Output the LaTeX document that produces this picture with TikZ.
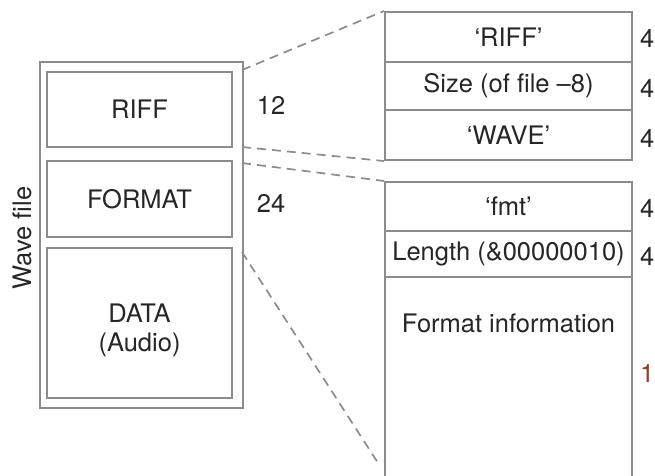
\documentclass[tikz,border=0pt]{standalone}
\usepackage{fontspec}
\setmainfont{TeX Gyre Heros}
\definecolor{linegray}{HTML}{8C8C8C}
\definecolor{textgray}{HTML}{262626}
\definecolor{rustred}{HTML}{9A3B2A}
\begin{document}
\begin{tikzpicture}[x=1pt,y=-1pt,
  font=\fontsize{25.5}{29}\selectfont,
  box/.style={draw=linegray, line width=2pt, rectangle, inner sep=0pt, text=textgray},
  lbl/.style={text=textgray, inner sep=0pt},
  size/.style={text=textgray, inner sep=0pt, anchor=west},
  link/.style={draw=linegray, line width=1.7pt, dash pattern=on 9pt off 6pt}]
\useasboundingbox (0,0) rectangle (655,475);

% wave file with its three chunks
\node[box, minimum width=203pt, minimum height=346pt] (frame) at (141.5,235) {};
\node[box, minimum width=185pt, minimum height=75pt] (riffL) at (139.5,109.5) {RIFF};
\node[box, minimum width=185pt, minimum height=76pt] (fmtL) at (139.5,199) {FORMAT};
\node[box, minimum width=185pt, minimum height=150pt] (dataL) at (139.5,323) {};
\node[lbl, align=center] (dataT) at (139.5,330) {DATA\\(Audio)};
\node[lbl, rotate=90] (wave) at (22,238) {Wave file};
\node[lbl] (n12) at (271,105) {12};
\node[lbl] (n24) at (271,203) {24};

% RIFF header fields
\node[box, minimum width=247pt, minimum height=50pt] (r1) at (508.5,37) {`RIFF'};
\node[box, minimum width=247pt, minimum height=48pt] (r2) at (508.5,86) {Size (of file --8)};
\node[box, minimum width=247pt, minimum height=50pt] (r3) at (508.5,135) {`WAVE'};

% format chunk fields
\node[box, minimum width=247pt, minimum height=49pt] (f1) at (508.5,206.5) {`fmt'};
\node[box, minimum width=247pt, minimum height=46pt] (f2) at (508.5,254) {Length (\&00000010)};
\node[box, minimum width=247pt, minimum height=208pt] (f3) at (508.5,381) {};
\node[lbl] (f3t) at (508.5,323) {Format information};

% field sizes
\node[size] (s1) at (640,38) {4};
\node[size] (s2) at (640,88) {4};
\node[size] (s3) at (640,138) {4};
\node[size] (s4) at (640,208) {4};
\node[size] (s5) at (640,256) {4};
\node[size, text=rustred] (s6) at (640,373) {1};

% dashed links from the chunks to their expansions
\coordinate (a1) at (242,70);
\coordinate (a2) at (242,147);
\coordinate (a3) at (242,163);
\coordinate (a4) at (242,252);
\coordinate (b4) at (380,466);
\draw[link] (a1) -- (r1.north west);
\draw[link] (a2) -- (r3.south west);
\draw[link] (a3) -- (f1.north west);
\draw[link] (a4) -- (b4);
\end{tikzpicture}
\end{document}
